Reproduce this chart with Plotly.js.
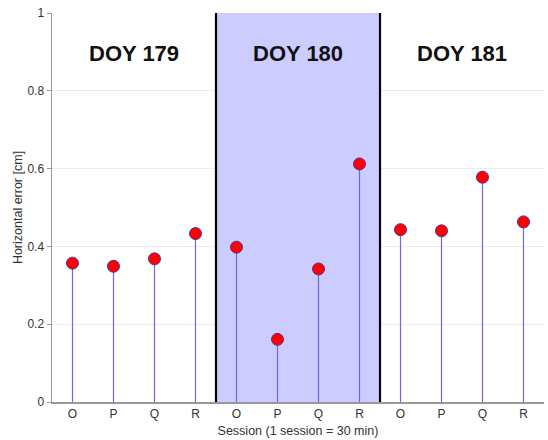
<!DOCTYPE html>
<html><head><meta charset="utf-8">
<script src="https://cdn.plot.ly/plotly-3.0.1.min.js"></script>
<style>body{margin:0;background:#fff}#chart{width:548px;height:440px}</style>
</head><body><div id="chart"></div>
<script>
const sessionLabels = ["O","P","Q","R","O","P","Q","R","O","P","Q","R"];
const positions = [1,2,3,4,5,6,7,8,9,10,11,12];
const errors = [0.357,0.349,0.368,0.433,0.398,0.161,0.342,0.612,0.443,0.440,0.578,0.463];
const dayLabels = ["DOY 179","DOY 180","DOY 181"];
const dayCenters = [2.5,6.5,10.5];

const stemX = [], stemY = [];
positions.forEach((p,i)=>{ stemX.push(p,p,null); stemY.push(0,errors[i],null); });

const traces = [
  {x: stemX, y: stemY, mode:'lines', line:{color:'#6a6ae0', width:1.2}, hoverinfo:'skip', showlegend:false},
  {x: positions, y: errors, mode:'markers', marker:{color:'#ff0000', size:12, line:{color:'#5a2a9a', width:1}}, showlegend:false}
];

const layout = {
  width:548, height:440,
  margin:{l:52, r:4, t:13, b:38},
  paper_bgcolor:'#fff', plot_bgcolor:'#fff',
  font:{family:'"Liberation Sans", Arial, sans-serif', color:'#333'},
  xaxis:{range:[0.5,12.5], tickvals:positions, ticktext:sessionLabels, showgrid:false, zeroline:false,
    showline:true, linecolor:'#999', linewidth:1.5, ticks:'', tickfont:{size:12, color:'#333'},
    title:{text:'Session (1 session = 30 min)', font:{size:12.5, color:'#333'}, standoff:6}},
  yaxis:{range:[0,1], tickvals:[0,0.2,0.4,0.6,0.8,1], ticktext:['0','0.2','0.4','0.6','0.8','1'],
    showgrid:true, gridcolor:'#ececec', zeroline:false, showline:true, linecolor:'#999', linewidth:1.5,
    ticks:'outside', ticklen:4, tickcolor:'#999', tickfont:{size:12, color:'#333'},
    title:{text:'Horizontal error [cm]', font:{size:12.5, color:'#333'}, standoff:2}},
  shapes:[
    {type:'rect', xref:'x', yref:'y', x0:4.5, x1:8.5, y0:0, y1:1, fillcolor:'#ccccff', line:{width:0}, layer:'between'},
    {type:'line', xref:'x', yref:'y', x0:4.5, x1:4.5, y0:0, y1:1, line:{color:'#000', width:2.2}, layer:'between'},
    {type:'line', xref:'x', yref:'y', x0:8.5, x1:8.5, y0:0, y1:1, line:{color:'#000', width:2.2}, layer:'between'}
  ],
  annotations: dayLabels.map((t,i)=>({x:dayCenters[i], y:0.897, xref:'x', yref:'y', text:'<b>'+t+'</b>',
    showarrow:false, font:{size:22, color:'#111', family:'"Liberation Sans", Arial, sans-serif'}}))
};
Plotly.newPlot('chart', traces, layout, {displayModeBar:false, staticPlot:true});
</script></body></html>
